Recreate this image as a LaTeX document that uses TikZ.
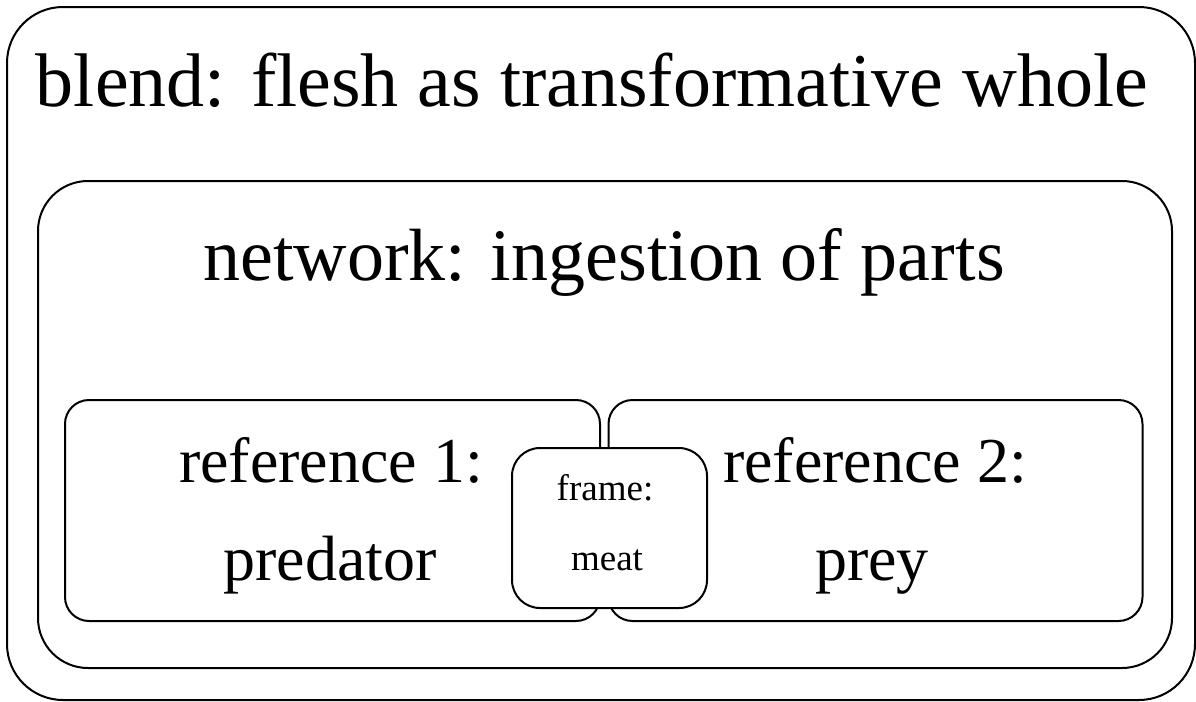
\documentclass[tikz,border=0pt]{standalone}
\usepackage{fontspec}
\setmainfont{Liberation Serif}
\usepackage{tikz}
\usetikzlibrary{positioning}

\begin{document}
\begin{tikzpicture}[x=0.5pt, y=-0.5pt,
  box/.style={rectangle, draw=black, line width=1pt, inner sep=0pt, fill=white},
  big/.style={font=\fontsize{38}{38}\selectfont, anchor=base, inner sep=0pt},
  mid/.style={font=\fontsize{32}{32}\selectfont, anchor=base, inner sep=0pt},
  small/.style={font=\fontsize{18.5}{18.5}\selectfont, anchor=base, inner sep=0pt}]
  \useasboundingbox (0,0) rectangle (1196,702);

  % boxes
  \node[box, rounded corners=28pt, minimum width=594pt, minimum height=346.5pt] (blend) at (601,353.5) {};
  \node[box, rounded corners=25pt, minimum width=567pt, minimum height=243.5pt] (network) at (605,424.5) {};
  \node[box, rounded corners=12pt, minimum width=267.5pt, minimum height=110.5pt] (ref1) at (332.5,510.5) {};
  \node[box, rounded corners=12pt, minimum width=267pt, minimum height=110.5pt] (ref2) at (875.5,510.5) {};
  \node[box, rounded corners=14pt, minimum width=97.5pt, minimum height=80pt] (frame) at (609.5,528) {};

  % texts
  \node[big] (blendtxt) at (592,106) {blend: flesh as transformative whole};
  \node[big, font=\fontsize{37}{37}\selectfont] (networktxt) at (604,280) {network: ingestion of parts};
  \node[mid] (refonea) at (331,482) {reference 1:};
  \node[mid] (refoneb) at (330,580) {predator};
  \node[mid] (reftwoa) at (875,482) {reference 2:};
  \node[mid] (reftwob) at (872,580) {prey};
  \node[small] (framea) at (605,500) {frame:};
  \node[small] (frameb) at (607,570) {meat};
\end{tikzpicture}
\end{document}
